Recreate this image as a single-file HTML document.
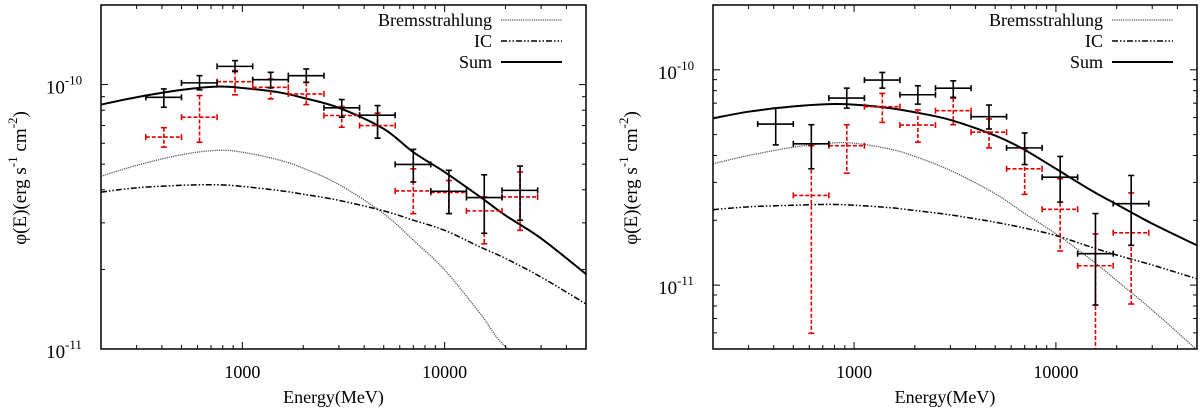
<!DOCTYPE html>
<html><head><meta charset="utf-8">
<style>
html,body{margin:0;padding:0;background:#fff;width:1200px;height:415px;overflow:hidden;}
svg{display:block;font-family:"Liberation Serif","DejaVu Serif",serif;}
</style></head>
<body>
<svg id="fig" width="1200" height="415" viewBox="0 0 1200 415" xmlns="http://www.w3.org/2000/svg"></svg>
<script>
// ---- shared data ----
const curveE = [200,300,500,750,1000,1500,2000,3000,5000,7000,10000,15000,20000,30000,50000];
const binE = [409,614,920,1380,2070,3100,4660,7000,10500,15700,23600];
const binLo = [333,500,750,1125,1687,2531,3797,5695,8543,12814,19221];
const binHi = [500,750,1125,1687,2531,3797,5695,8543,12814,19221,28832];
const xTickVals = [1000,10000];
const xTickLabels = ["1000","10000"];

// ---- left panel ----
const leftSum = [8.40e-11,8.96e-11,9.55e-11,9.83e-11,9.71e-11,9.36e-11,8.91e-11,8.17e-11,6.80e-11,5.55e-11,4.67e-11,3.76e-11,3.20e-11,2.62e-11,1.92e-11];
const leftBrems = [4.50e-11,4.95e-11,5.43e-11,5.64e-11,5.55e-11,5.20e-11,4.83e-11,4.19e-11,3.25e-11,2.58e-11,1.99e-11,1.36e-11,1.02e-11,6.0e-12,3.0e-12];
const leftIC = [3.92e-11,4.07e-11,4.16e-11,4.18e-11,4.12e-11,3.98e-11,3.85e-11,3.65e-11,3.33e-11,3.07e-11,2.81e-11,2.43e-11,2.20e-11,1.87e-11,1.48e-11];
const leftBlack = [8.95e-11,1.015e-10,1.172e-10,1.044e-10,1.081e-10,8.17e-11,7.66e-11,4.99e-11,3.95e-11,3.74e-11,3.98e-11];
const leftBlackHi = [9.63e-11,1.081e-10,1.232e-10,1.113e-10,1.146e-10,8.78e-11,8.33e-11,5.69e-11,4.74e-11,4.56e-11,4.92e-11];
const leftBlackLo = [8.21e-11,9.55e-11,1.12e-10,9.72e-11,1.02e-10,7.53e-11,6.27e-11,4.28e-11,3.25e-11,2.74e-11,3.07e-11];
const leftRed = [6.33e-11,7.53e-11,1.026e-10,9.77e-11,9.22e-11,7.64e-11,7.0e-11,3.96e-11,3.91e-11,3.33e-11,3.76e-11];
const leftRedHi = [6.87e-11,9.09e-11,1.13e-10,1.05e-10,1.02e-10,8.26e-11,7.8e-11,4.8e-11,4.34e-11,3.76e-11,4.67e-11];
const leftRedLo = [5.8e-11,6.05e-11,9.15e-11,8.83e-11,8.4e-11,6.9e-11,6.27e-11,3.25e-11,3.25e-11,2.5e-11,2.81e-11];

// ---- right panel ----
const rightSum = [5.95e-11,6.39e-11,6.76e-11,6.93e-11,6.89e-11,6.64e-11,6.35e-11,5.85e-11,4.95e-11,4.25e-11,3.47e-11,2.75e-11,2.37e-11,1.93e-11,1.53e-11];
const rightBrems = [3.66e-11,4.00e-11,4.37e-11,4.56e-11,4.56e-11,4.29e-11,3.96e-11,3.41e-11,2.66e-11,2.15e-11,1.73e-11,1.31e-11,1.05e-11,7.66e-12,5.0e-12];
const rightIC = [2.24e-11,2.31e-11,2.35e-11,2.37e-11,2.35e-11,2.29e-11,2.22e-11,2.12e-11,1.96e-11,1.84e-11,1.70e-11,1.50e-11,1.38e-11,1.24e-11,1.07e-11];
const rightBlack = [5.6e-11,4.53e-11,7.39e-11,8.96e-11,7.66e-11,8.22e-11,6.06e-11,4.34e-11,3.17e-11,1.40e-11,2.39e-11];
const rightBlackHi = [6.64e-11,5.56e-11,8.22e-11,9.72e-11,8.43e-11,8.89e-11,6.86e-11,5.09e-11,3.96e-11,2.15e-11,3.23e-11];
const rightBlackLo = [4.48e-11,3.47e-11,6.64e-11,8.22e-11,6.93e-11,7.45e-11,5.31e-11,3.63e-11,2.43e-11,8.08e-12,1.53e-11];
const rightRedE = [614,920,1380,2070,3100,4660,7000,10500,15700,23600];
const rightRedLoE = [500,750,1125,1687,2531,3797,5695,8543,12814,19221];
const rightRedHiE = [750,1125,1687,2531,3797,5695,8543,12814,19221,28832];
const rightRed = [2.61e-11,4.44e-11,6.74e-11,5.54e-11,6.46e-11,5.13e-11,3.47e-11,2.25e-11,1.23e-11,1.75e-11];
const rightRedHi = [4.44e-11,5.56e-11,7.77e-11,6.51e-11,7.39e-11,5.91e-11,4.29e-11,3.12e-11,1.73e-11,2.68e-11];
const rightRedLo = [5.97e-12,3.31e-11,5.70e-11,4.61e-11,5.56e-11,4.34e-11,2.64e-11,1.44e-11,3.0e-12,8.17e-12];

const NS = "http://www.w3.org/2000/svg";
const svg = document.getElementById("fig");
function mk(tag, attrs, parent){
  const e = document.createElementNS(NS, tag);
  for (const k in attrs) e.setAttribute(k, attrs[k]);
  (parent||svg).appendChild(e);
  return e;
}

function panel(cfg){
  const g = mk("g", {});
  
  
  const L=cfg.L,R=cfg.R,T=cfg.T,B=cfg.B;
  const lx0=Math.log10(200), lx1=Math.log10(50000);
  const ly0=Math.log10(cfg.ymin), ly1=Math.log10(cfg.ymax);
  const X = e => L + (Math.log10(e)-lx0)/(lx1-lx0)*(R-L);
  const Y = v => B - (Math.log10(v)-ly0)/(ly1-ly0)*(B-T);
  const cid = "clip-"+cfg.name;
  const defs = mk("defs", {}, g);
  const cp = mk("clipPath", {id:cid}, defs);
  mk("rect", {x:L,y:T,width:R-L,height:B-T}, cp);

  const tg = mk("g", {stroke:"#000","stroke-width":1}, g);
  
  
  for (let d=100; d<=10000; d*=10){
    for (let m=1;m<=9;m++){
      const e=d*m; if(e<200||e>50000) continue;
      const x=X(e), len = m===1?7:4;
      mk("line",{x1:x,y1:B,x2:x,y2:B-len},tg);
      mk("line",{x1:x,y1:T,x2:x,y2:T+len},tg);
    }
  }
  for (let d=1e-12; d<=1e-10*1.01; d*=10){
    for (let m=1;m<=9;m++){
      const v=d*m; if(v<cfg.ymin*0.999||v>cfg.ymax*1.001) continue;
      const y=Y(v), len = m===1?7:4;
      mk("line",{x1:L,y1:y,x2:L+len,y2:y},tg);
      mk("line",{x1:R,y1:y,x2:R-len,y2:y},tg);
    }
  }
  xTickVals.forEach((v,i)=>{
    const t = mk("text",{x:X(v),y:B+29,"text-anchor":"middle","font-size":18,fill:"#000"},g);
    
    
    t.textContent = xTickLabels[i];
  });
  cfg.yTicks.forEach((v,i)=>{
    const t = mk("text",{x:L-37,y:Y(v)+9,"text-anchor":"middle","font-size":19,fill:"#000"},g);
    
    
    t.appendChild(document.createTextNode("10"));
    const s = mk("tspan",{dy:-9,"font-size":13},t);
    s.textContent = cfg.yTickExp[i];
  });
  const xt = mk("text",{x:(L+R)/2-10,y:403,"text-anchor":"middle","font-size":18,fill:"#000"},g);
  
  
  xt.textContent = "Energy(MeV)";
  const yt = mk("text",{x:0,y:0,"text-anchor":"middle","font-size":19,fill:"#000",transform:`translate(${cfg.ytx},${cfg.yty}) rotate(-90)`},g);
  
  
  yt.appendChild(document.createTextNode("\u03C6(E)(erg s"));
  const s1 = mk("tspan",{dy:-9,"font-size":13},yt); s1.textContent="-1";
  const s2 = mk("tspan",{dy:9},yt); s2.textContent="\u00A0cm";
  const s3 = mk("tspan",{dy:-9,"font-size":13},yt); s3.textContent="-2";
  const s4 = mk("tspan",{dy:9},yt); s4.textContent=")";

  const cg = mk("g",{"clip-path":`url(#${cid})`,fill:"none"},g);
  function curve(vals, name, attrs){
    const pts = curveE.map((e,i)=>[X(e),Math.min(Y(vals[i]),B+15)]);
    let d = `M${pts[0][0]},${pts[0][1]}`;
    for (let i=0;i<pts.length-1;i++){
      const p0=pts[Math.max(0,i-1)],p1=pts[i],p2=pts[i+1],p3=pts[Math.min(pts.length-1,i+2)];
      const c1=[p1[0]+(p2[0]-p0[0])/6,Math.min(p1[1]+(p2[1]-p0[1])/6,B+15)];
      const c2=[p2[0]-(p3[0]-p1[0])/6,Math.min(p2[1]-(p3[1]-p1[1])/6,B+15)];
      d += ` C${c1[0]},${c1[1]} ${c2[0]},${c2[1]} ${p2[0]},${p2[1]}`;
    }
    const p = mk("path",Object.assign({d:d},attrs),cg);
    
    
  }
  curve(cfg.brems,"bremsstrahlung-curve",{stroke:"#555","stroke-width":1.3,"stroke-dasharray":"1.2,1"});
  curve(cfg.ic,"ic-curve",{stroke:"#000","stroke-width":1.5,"stroke-dasharray":"6,2,1.5,2,1.5,2"});
  curve(cfg.sum,"sum-curve",{stroke:"#000","stroke-width":2});

  function points(E,Elo,Ehi,v,hi,lo,color,dash,name){
    const pg = mk("g",{stroke:color,"stroke-width":1.6,fill:"none","stroke-dasharray":dash,"clip-path":`url(#${cid})`},g);
    
    
    E.forEach((e,i)=>{
      const x=X(e), y=Y(v[i]), x0=X(Elo[i]), x1=X(Ehi[i]);
      const yh=Math.max(Y(hi[i]),T), ylRaw=Y(lo[i]), yl=Math.min(ylRaw,B);
      mk("line",{x1:x0,y1:y,x2:x1,y2:y},pg);
      mk("line",{x1:x,y1:yh,x2:x,y2:yl},pg);
      mk("line",{x1:x0,y1:y-3,x2:x0,y2:y+3,"stroke-dasharray":"none"},pg);
      mk("line",{x1:x1,y1:y-3,x2:x1,y2:y+3,"stroke-dasharray":"none"},pg);
      mk("line",{x1:x-3,y1:yh,x2:x+3,y2:yh,"stroke-dasharray":"none"},pg);
      if (ylRaw < B) mk("line",{x1:x-3,y1:yl,x2:x+3,y2:yl,"stroke-dasharray":"none"},pg);
    });
  }
  points(cfg.redE,cfg.redLoE,cfg.redHiE,cfg.red,cfg.redHi,cfg.redLo,"#e00000","4,2","red-data-points");
  points(binE,binLo,binHi,cfg.black,cfg.blackHi,cfg.blackLo,"#000","none","black-data-points");

  const fr = mk("rect",{x:L,y:T,width:R-L,height:B-T,fill:"none",stroke:"#000","stroke-width":1.5},g);
  
  

  const lg = mk("g",{},g);
  
  
  const items = [["Bremsstrahlung",{stroke:"#555","stroke-width":1.3,"stroke-dasharray":"1.2,1"}],
                 ["IC",{stroke:"#000","stroke-width":1.5,"stroke-dasharray":"6,2,1.5,2,1.5,2"}],
                 ["Sum",{stroke:"#000","stroke-width":2}]];
  items.forEach((it,i)=>{
    const yy = 20 + i*21;
    const t = mk("text",{x:cfg.legX,y:yy+6,"text-anchor":"end","font-size":18,fill:"#000"},lg);
    
    
    t.textContent = it[0];
    mk("line",Object.assign({x1:cfg.legX+9,y1:yy,x2:cfg.legX+70,y2:yy},it[1]),lg);
  });
}

panel({name:"left-panel",L:101,R:586,T:5,B:349,ymin:1e-11,ymax:2e-10,
  yTicks:[1e-10,1e-11],yTickExp:["-10","-11"],ytx:26,yty:178,legX:492,
  sum:leftSum,brems:leftBrems,ic:leftIC,
  black:leftBlack,blackHi:leftBlackHi,blackLo:leftBlackLo,
  redE:binE,redLoE:binLo,redHiE:binHi,red:leftRed,redHi:leftRedHi,redLo:leftRedLo});
panel({name:"right-panel",L:713,R:1197,T:5,B:349,ymin:5.05e-12,ymax:2e-10,
  yTicks:[1e-10,1e-11],yTickExp:["-10","-11"],ytx:637,yty:178,legX:1103,
  sum:rightSum,brems:rightBrems,ic:rightIC,
  black:rightBlack,blackHi:rightBlackHi,blackLo:rightBlackLo,
  redE:rightRedE,redLoE:rightRedLoE,redHiE:rightRedHiE,red:rightRed,redHi:rightRedHi,redLo:rightRedLo});
</script>
</body></html>
